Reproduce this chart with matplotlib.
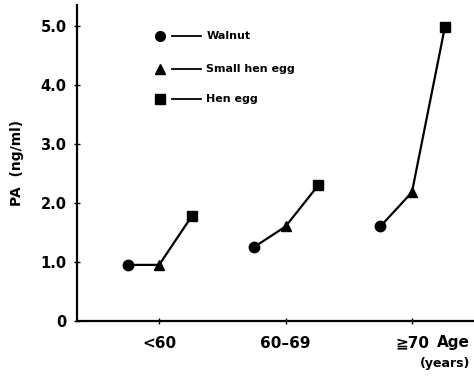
import numpy as np
import matplotlib
matplotlib.use("Agg")
import matplotlib.pyplot as plt

plt.rcParams["font.family"] = ["DejaVu Sans"]
plt.rcParams["font.weight"] = "bold"

# data
age_groups = ["<60", "60\u201369", "\u226770"]
walnut = [0.95, 1.25, 1.60]
small_hen_egg = [0.95, 1.60, 2.18]
hen_egg = [1.78, 2.30, 4.97]
y_ticks = [0, 1, 2, 3, 4, 5]
y_tick_labels = ["0", "1.0", "2.0", "3.0", "4.0", "5.0"]
series_names = ["Walnut", "Small hen egg", "Hen egg"]
series_markers = ["o", "^", "s"]

fig = plt.figure(figsize=(4.74, 3.76), dpi=100)
ax = fig.add_axes([0.1624, 0.1463, 0.84, 0.8404])

offsets = [-0.25, 0.0, 0.26]
pos = np.arange(len(age_groups))
for i in range(len(age_groups)):
    xs = [pos[i] + o for o in offsets]
    ys = [walnut[i], small_hen_egg[i], hen_egg[i]]
    ax.plot(xs, ys, color="black", lw=1.6, zorder=2)
    for x, y, m in zip(xs, ys, series_markers):
        ax.plot(x, y, marker=m, ms=7.5 if m != "s" else 7, color="black",
                ls="none", zorder=3)

ax.set_xlim(-0.65, 2.5)
ax.set_ylim(0, 5.35)
for s in ["top", "right"]:
    ax.spines[s].set_visible(False)
for s in ["left", "bottom"]:
    ax.spines[s].set_linewidth(1.6)

ax.set_yticks(y_ticks)
ax.set_yticklabels(y_tick_labels, fontsize=10.5, fontweight="bold")
ax.set_xticks(pos)
ax.set_xticklabels(age_groups, fontsize=11, fontweight="bold")
ax.tick_params(axis="y", direction="inout", length=5, width=1, pad=5)
ax.tick_params(axis="x", direction="inout", length=5, width=1, pad=8)

ax.set_ylabel("PA  (ng/ml)", fontsize=10, fontweight="bold", labelpad=12)

ax.text(0.945, -0.069, "Age", transform=ax.transAxes, fontsize=11,
        fontweight="bold", ha="center", va="center")
ax.text(0.925, -0.135, "(years)", transform=ax.transAxes, fontsize=9,
        fontweight="bold", ha="center", va="center", clip_on=False)

# legend drawn by hand: marker, short line, label
leg_y = [0.902, 0.797, 0.703]
for name, m, y in zip(series_names, series_markers, leg_y):
    ax.plot([0.209], [y], marker=m, ms=7 if m != "s" else 6.5, color="black",
            transform=ax.transAxes, clip_on=False)
    ax.plot([0.239, 0.312], [y, y], color="black", lw=1.3,
            transform=ax.transAxes)
    ax.text(0.325, y, name, transform=ax.transAxes, fontsize=8,
            fontweight="bold", va="center", ha="left")

fig.savefig("out.png", dpi=100)
